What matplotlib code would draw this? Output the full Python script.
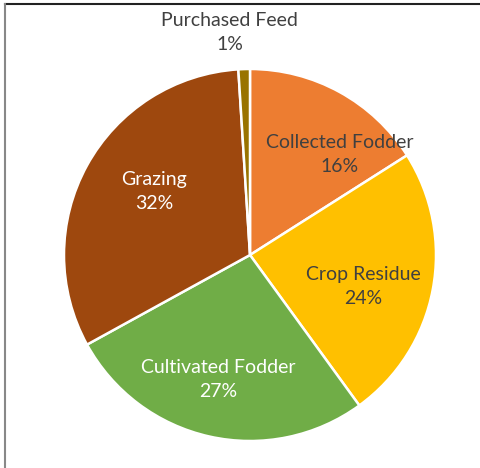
import matplotlib.pyplot as plt
from matplotlib.lines import Line2D

# Feed source shares (%), clockwise from 12 o'clock
categories = ['Collected Fodder', 'Crop Residue', 'Cultivated Fodder', 'Grazing', 'Purchased Feed']
shares = [16, 24, 27, 32, 1]
colors = ['#ED7D31', '#FFC000', '#70AD47', '#9E480E', '#997300']
text_colors = ['#404040', '#404040', 'white', 'white', '#404040']

# label anchor points in pie radius units
label_xy = [(0.484, 0.543), (0.608, -0.167), (-0.172, -0.667), (-0.516, 0.339), (-0.108, 1.194)]

W, H = 480, 468
fig = plt.figure(figsize=(W / 100, H / 100), dpi=100)

cx, cy, r = 250, 255, 186
ax = fig.add_axes([(cx - r) / W, (H - cy - r) / H, 2 * r / W, 2 * r / H])
ax.pie(shares, colors=colors, startangle=90, counterclock=False, radius=1,
       wedgeprops=dict(edgecolor='white', linewidth=1.8))
ax.set_xlim(-1, 1)
ax.set_ylim(-1, 1)
ax.set_aspect('equal')
ax.axis('off')

for name, val, (x, y), tc in zip(categories, shares, label_xy, text_colors):
    ax.text(x, y, f'{name}\n{val}%', ha='center', va='center', color=tc,
            fontsize=14, family='Lato', linespacing=1.5, clip_on=False)

# chart frame: top and left edges
fig.add_artist(Line2D([5 / W, 1], [1 - 4 / H, 1 - 4 / H], transform=fig.transFigure,
                      color='#222222', linewidth=1.5))
fig.add_artist(Line2D([5 / W, 5 / W], [0, 1 - 4 / H], transform=fig.transFigure,
                      color='#888888', linewidth=1.5))

fig.savefig('out.png', dpi=100)
